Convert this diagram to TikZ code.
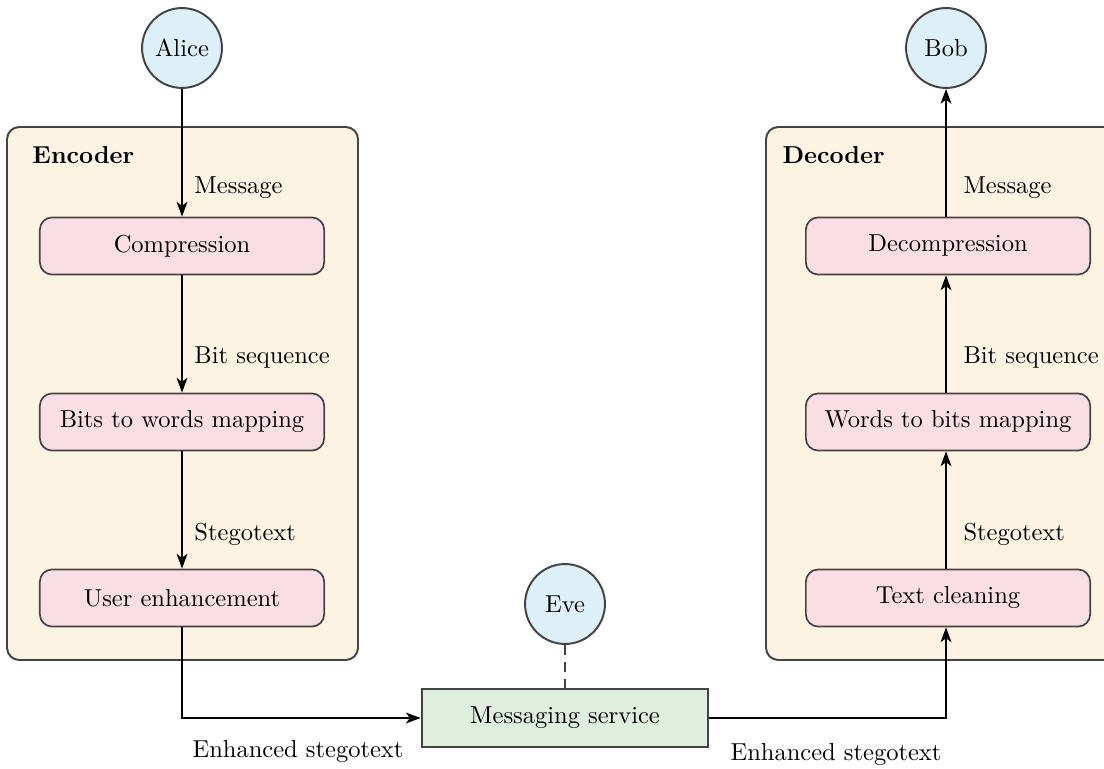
\documentclass[tikz,border=0pt]{standalone}
\usetikzlibrary{arrows.meta}
\definecolor{circfill}{HTML}{DDF0F8}
\definecolor{boxfill}{HTML}{F9DFE3}
\definecolor{contfill}{HTML}{FCF3E2}
\definecolor{msgfill}{HTML}{DFEEDF}
\definecolor{edge}{HTML}{444444}
\begin{document}
\begin{tikzpicture}[x=0.408pt,y=-0.408pt,
  person/.style={circle,draw=edge,line width=0.8pt,fill=circfill,minimum size=32.6pt,inner sep=0pt},
  procbox/.style={rectangle,rounded corners=5pt,draw=edge,line width=0.7pt,fill=boxfill,minimum width=116pt,minimum height=23.3pt,inner sep=0pt},
  container/.style={draw=edge,line width=0.8pt,fill=contfill,rounded corners=5pt},
  servbox/.style={rectangle,draw=edge,line width=0.8pt,fill=msgfill,minimum width=117pt,minimum height=24pt,inner sep=0pt},
  flow/.style={line width=0.7pt,-{Stealth[length=6pt,width=4.4pt,inset=1.6pt]}},
  lbl/.style={anchor=west,inner sep=0pt},
  ttl/.style={anchor=west,inner sep=0pt,font=\bfseries}]
\useasboundingbox (0,0) rectangle (1104,769);
\fill[white] (0,0) rectangle (1104,769);
% containers
\draw[container] (7,127) rectangle (358,660);
\draw[container] (766,127) rectangle (1130,660);
\node[ttl] (enc) at (32,155) {Encoder};
\node[ttl] (dec) at (782,155) {Decoder};
% persons
\node[person] (alice) at (182,48) {Alice};
\node[person] (bob) at (946,48) {Bob};
\node[person] (eve) at (565,604) {Eve};
% encoder steps
\node[procbox] (comp) at (182,246) {Compression};
\node[procbox] (b2w) at (182,422) {Bits to words mapping};
\node[procbox] (user) at (182,598) {User enhancement};
% decoder steps
\node[procbox] (decomp) at (948,246) {Decompression};
\node[procbox] (w2b) at (948,422) {Words to bits mapping};
\node[procbox] (clean) at (948,598) {Text cleaning};
% service
\node[servbox] (serv) at (565,718) {Messaging service};
% connectors
\draw[flow] (alice.south) -- (comp.north);
\draw[flow] (comp.south) -- (b2w.north);
\draw[flow] (b2w.south) -- (user.north);
\draw[flow] (user.south) |- (serv.west);
\draw[flow] (serv.east) -| (clean.south -| bob.south);
\draw[flow] (clean.north -| bob.south) -- (w2b.south -| bob.south);
\draw[flow] (w2b.north -| bob.south) -- (decomp.south -| bob.south);
\draw[flow] (decomp.north -| bob.south) -- (bob.south);
\draw[dashed,line width=0.7pt,edge,dash pattern=on 4pt off 3pt] (eve.south) -- (serv.north);
% labels
\node[lbl] (l1) at (194,188) {Message};
\node[lbl] (l2) at (194,358) {Bit sequence};
\node[lbl] (l3) at (194,534) {Stegotext};
\node[lbl] (r1) at (963,188) {Message};
\node[lbl] (r2) at (963,358) {Bit sequence};
\node[lbl] (r3) at (963,534) {Stegotext};
\node[inner sep=0pt] (e1) at (298,752) {Enhanced stegotext};
\node[inner sep=0pt] (e2) at (836,755) {Enhanced stegotext};
\end{tikzpicture}
\end{document}
